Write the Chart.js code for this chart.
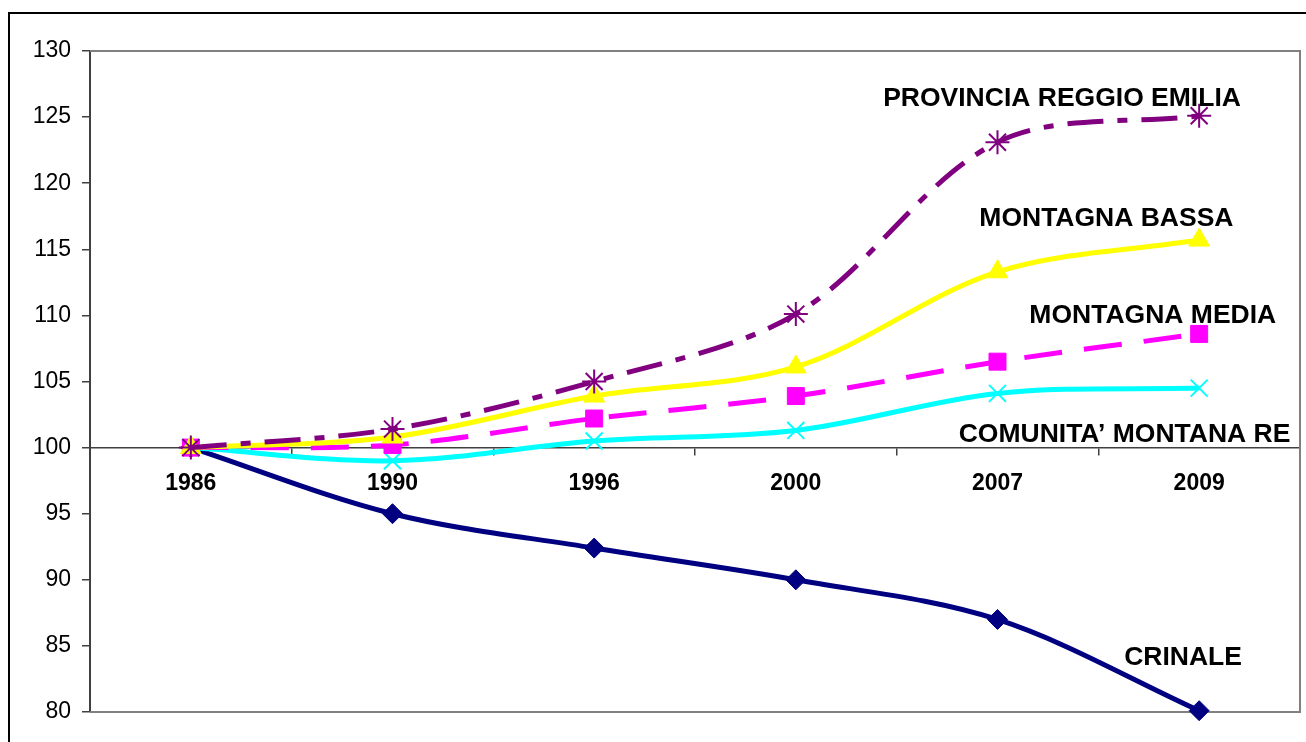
<!DOCTYPE html>
<html>
<head>
<meta charset="utf-8">
<script src="https://cdn.jsdelivr.net/npm/chart.js@4.4.1/dist/chart.umd.min.js"></script>
<style>
  html, body { margin: 0; padding: 0; background: #fff; overflow: hidden; }
  canvas { display: block; }
</style>
</head>
<body>
<canvas id="chart" width="1314" height="742"></canvas>
<script>
let years = ["1986", "1990", "1996", "2000", "2007", "2009"];
let provincia = [100, 101.4, 105.0, 110.1, 123.1, 125.1];
let bassa = [100, 100.8, 103.9, 106.1, 113.3, 115.7];
let media = [100, 100.2, 102.2, 103.9, 106.5, 108.6];
let comunita = [100, 99.0, 100.5, 101.3, 104.1, 104.5];
let crinale = [100, 95.0, 92.4, 90.0, 87.0, 80.1];
let seriesNames = ["PROVINCIA REGGIO EMILIA", "MONTAGNA BASSA", "MONTAGNA MEDIA",
                   "COMUNITA’ MONTANA RE", "CRINALE"];
let yMin = 80, yMax = 130, yStep = 5;

const FONT = "'Liberation Sans', Arial, sans-serif";

// where each series name sits, in axis units (category index, value)
let nameSpots = [[4.32, 126.4], [4.54, 117.3], [4.77, 110.0], [4.63, 101.0], [4.92, 84.1]];

let frame = {
  id: "frame",
  beforeDatasetsDraw(chart) {
    let {ctx, chartArea: a} = chart;
    ctx.save();
    ctx.strokeStyle = "#808080";
    ctx.lineWidth = 2;
    ctx.beginPath();
    ctx.moveTo(a.left, a.top);
    ctx.lineTo(a.right, a.top);
    ctx.lineTo(a.right, a.bottom);
    ctx.lineTo(a.left, a.bottom);
    ctx.stroke();
    // outer box of the picture
    ctx.strokeStyle = "#000";
    ctx.beginPath();
    ctx.moveTo(9, chart.height);
    ctx.lineTo(9, 13);
    ctx.lineTo(chart.width, 13);
    ctx.stroke();
    ctx.restore();
  },
  afterDatasetsDraw(chart) {
    let {ctx, scales: {x, y}} = chart;
    ctx.save();
    ctx.fillStyle = "#000";
    ctx.font = "bold 26.5px " + FONT;
    ctx.textAlign = "center";
    ctx.textBaseline = "middle";
    seriesNames.forEach((name, i) => {
      let [cx, cy] = nameSpots[i];
      ctx.fillText(name, x.getPixelForValue(cx), y.getPixelForValue(cy));
    });
    ctx.restore();
  }
};

function series(data, color, style, radius, dash, filled, order) {
  return {
    data,
    borderColor: color,
    backgroundColor: filled ? color : "transparent",
    pointBackgroundColor: filled ? color : "transparent",
    pointBorderColor: color,
    pointBorderWidth: filled ? 1 : 2,
    pointStyle: style,
    pointRadius: radius,
    borderWidth: 5,
    borderDash: dash,
    tension: 0.33,
    fill: false,
    clip: false,
    order
  };
}

new Chart(document.getElementById("chart"), {
  type: "line",
  data: {
    labels: years,
    datasets: [
      series(crinale, "#000080", "rectRot", 10, [], true, 5),
      series(comunita, "#00FFFF", "crossRot", 12, [], false, 4),
      series(media, "#FF00FF", "rect", 12, [38, 22], true, 3),
      series(bassa, "#FFFF00", "triangle", 12, [], true, 2),
      series(provincia, "#800080", "star", 12, [36, 14, 10, 14], false, 1)
    ]
  },
  plugins: [frame],
  options: {
    responsive: false,
    animation: false,
    events: [],
    layout: {padding: {left: 10, top: 51, right: 6, bottom: 30}},
    plugins: {legend: {display: false}, tooltip: {enabled: false}},
    scales: {
      x: {
        position: {y: 100},
        offset: true,
        grid: {offset: true, drawOnChartArea: false, tickLength: 7, color: "#404040", lineWidth: 1.5},
        border: {color: "#404040", width: 1.5},
        ticks: {color: "#000", padding: 15, font: {family: FONT, size: 23, weight: "bold"}}
      },
      y: {
        min: yMin,
        max: yMax,
        afterFit: s => { s.width = 80; },
        grid: {drawOnChartArea: false, tickLength: 8, color: "#404040", lineWidth: 1.5},
        border: {color: "#404040", width: 2},
        ticks: {stepSize: yStep, color: "#000", padding: 11, font: {family: FONT, size: 23}}
      }
    }
  }
});
</script>
</body>
</html>
